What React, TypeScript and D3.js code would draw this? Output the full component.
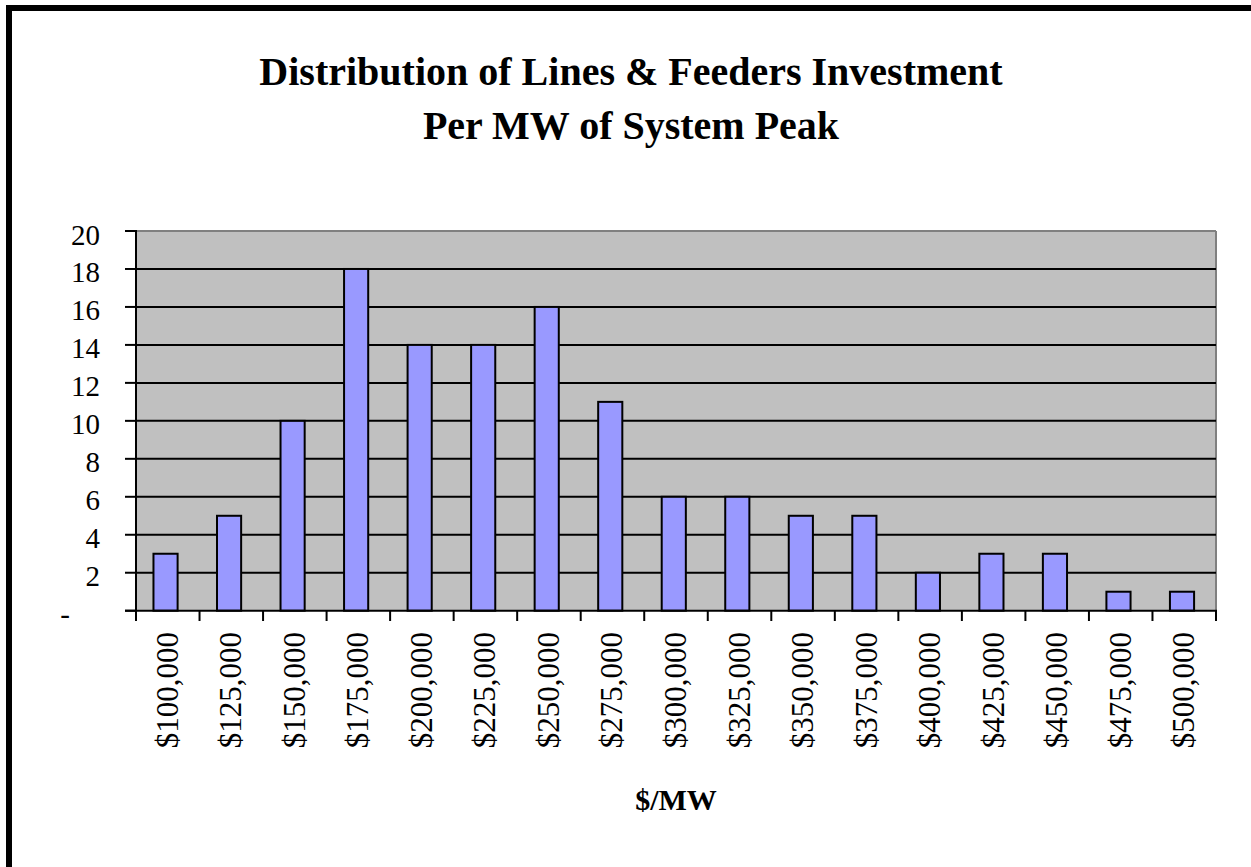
import React from "react";
import * as d3 from "d3";

const categories = [
  "$100,000", "$125,000", "$150,000", "$175,000", "$200,000", "$225,000",
  "$250,000", "$275,000", "$300,000", "$325,000", "$350,000", "$375,000",
  "$400,000", "$425,000", "$450,000", "$475,000", "$500,000",
];
const counts = [3, 5, 10, 18, 14, 14, 16, 11, 6, 6, 5, 5, 2, 3, 3, 1, 1];
const yTicks = [0, 2, 4, 6, 8, 10, 12, 14, 16, 18, 20];
const titleLines = ["Distribution of Lines & Feeders Investment", "Per MW of System Peak"];
const xTitle = "$/MW";

const W = 1251;
const H = 867;
const plot = { left: 136, right: 1216, top: 231, bottom: 610.7 };
const FONT = "'Liberation Serif', 'DejaVu Serif', serif";

export default function App() {
  const x = d3.scaleBand<string>().domain(categories).range([plot.left, plot.right]).padding(0);
  const y = d3.scaleLinear().domain([0, 20]).range([plot.bottom, plot.top]);
  const bw = x.bandwidth();
  const boundaries = d3.range(categories.length + 1).map((i) => plot.left + i * bw);

  return (
    <svg
      width={W}
      height={H}
      style={{ position: "absolute", left: 0, top: 0, background: "#fff" }}
    >
      <rect x={0} y={0} width={W} height={H} fill="#fff" />
      {/* outer frame */}
      <rect x={9} y={8} width={1400} height={1000} fill="none" stroke="#000" strokeWidth={6} />

      {/* title */}
      {titleLines.map((t, i) => (
        <text
          key={t}
          x={631}
          y={85 + i * 54}
          textAnchor="middle"
          fontFamily={FONT}
          fontWeight="bold"
          fontSize={40}
          fill="#000"
        >
          {t}
        </text>
      ))}

      {/* plot background */}
      <rect
        x={plot.left}
        y={plot.top}
        width={plot.right - plot.left}
        height={plot.bottom - plot.top}
        fill="#C0C0C0"
      />
      {/* gray top and right border */}
      <line x1={plot.left} x2={plot.right} y1={plot.top} y2={plot.top} stroke="#808080" strokeWidth={2} />
      <line x1={plot.right} x2={plot.right} y1={plot.top} y2={plot.bottom} stroke="#808080" strokeWidth={2} />

      {/* gridlines */}
      {yTicks
        .filter((v) => v > 0 && v < 20)
        .map((v) => (
          <line key={v} x1={plot.left} x2={plot.right} y1={y(v)} y2={y(v)} stroke="#000" strokeWidth={2} />
        ))}

      {/* bars */}
      {categories.map((c, i) => (
        <rect
          key={c}
          x={(x(c) as number) + bw * 0.275}
          y={y(counts[i])}
          width={bw * 0.38}
          height={y(0) - y(counts[i])}
          fill="#9999FF"
          stroke="#000"
          strokeWidth={2}
        />
      ))}

      {/* y axis */}
      <line x1={plot.left} x2={plot.left} y1={plot.top - 1} y2={plot.bottom + 1} stroke="#000" strokeWidth={2} />
      {yTicks.map((v) => (
        <g key={v}>
          <line x1={125} x2={plot.left} y1={y(v)} y2={y(v)} stroke="#000" strokeWidth={2} />
          <text
            x={v === 0 ? 70 : 100}
            y={y(v) + 13.5}
            textAnchor="end"
            fontFamily={FONT}
            fontSize={29}
            fill="#000"
          >
            {v === 0 ? "-" : String(v)}
          </text>
        </g>
      ))}

      {/* x axis */}
      <line x1={plot.left - 11} x2={plot.right + 1} y1={plot.bottom} y2={plot.bottom} stroke="#000" strokeWidth={2} />
      {boundaries.map((bx, i) => (
        <line key={i} x1={bx} x2={bx} y1={plot.bottom} y2={621} stroke="#000" strokeWidth={2} />
      ))}
      {categories.map((c) => {
        const cx = (x(c) as number) + bw / 2;
        return (
          <text
            key={c}
            transform={`translate(${cx + 10},632) rotate(-90)`}
            textAnchor="end"
            fontFamily={FONT}
            fontSize={31}
            fill="#000"
          >
            {c}
          </text>
        );
      })}

      {/* x title */}
      <text
        x={(plot.left + plot.right) / 2}
        y={810}
        textAnchor="middle"
        fontFamily={FONT}
        fontWeight="bold"
        fontSize={30}
        fill="#000"
      >
        {xTitle}
      </text>
    </svg>
  );
}
